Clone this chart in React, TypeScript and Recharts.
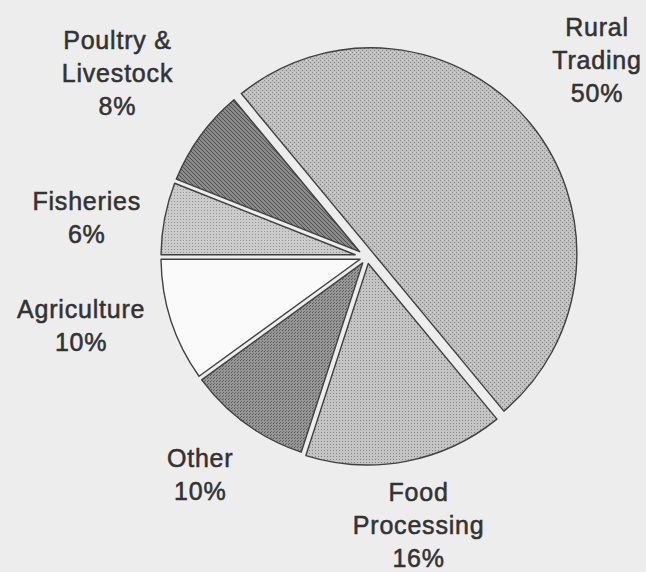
import React from 'react';
import { PieChart, Pie, Cell } from 'recharts';

// ---- data ----
const categories = ['Agriculture', 'Other', 'Food Processing', 'Rural Trading', 'Poultry & Livestock', 'Fisheries'];
const shares = [10, 10, 16, 50, 8, 6];
const labelLines = [['Agriculture'], ['Other'], ['Food', 'Processing'], ['Rural', 'Trading'], ['Poultry &', 'Livestock'], ['Fisheries']];

const data = categories.map((name, i) => ({ name, value: shares[i], lines: labelLines[i] }));

// ---- styling ----
const FILLS: Record<string, string> = {
  'Agriculture': '#fafafa',
  'Other': 'url(#patOther)',
  'Food Processing': 'url(#patFood)',
  'Rural Trading': 'url(#patRural)',
  'Poultry & Livestock': 'url(#patPoultry)',
  'Fisheries': 'url(#patFish)',
};
const EXPLODE: Record<string, number> = { 'Rural Trading': 5, 'Food Processing': 2 };
const LABEL_POS: Record<string, { r: number; shift: number }> = {
  'Rural Trading': { r: 303, shift: 1 },
  'Poultry & Livestock': { r: 310, shift: -0.4 },
  'Fisheries': { r: 283, shift: 2.8 },
  'Agriculture': { r: 294, shift: -4.5 },
  'Other': { r: 274, shift: -1.5 },
  'Food Processing': { r: 273, shift: 0.1 },
};
const GAP = 4.5;
const RAD = Math.PI / 180;

const renderSlice = (props: any) => {
  const { cx, cy, outerRadius, startAngle, endAngle, fill } = props;
  const name = props.payload?.name ?? props.name;
  const mid = (startAngle + endAngle) / 2;
  const ex = EXPLODE[name] ?? 0;
  const h = GAP / 2;
  const R = outerRadius;
  const ox = cx + ex * Math.cos(mid * RAD);
  const oy = cy - ex * Math.sin(mid * RAD);
  const theta = Math.abs(endAngle - startAngle) * RAD;
  const apexD = h / Math.sin(theta / 2);
  const ax = ox + apexD * Math.cos(mid * RAD);
  const ay = oy - apexD * Math.sin(mid * RAD);
  const delta = Math.asin(h / R) / RAD;
  const a1 = Math.min(startAngle, endAngle) + delta;
  const a2 = Math.max(startAngle, endAngle) - delta;
  const p1x = ox + R * Math.cos(a1 * RAD);
  const p1y = oy - R * Math.sin(a1 * RAD);
  const p2x = ox + R * Math.cos(a2 * RAD);
  const p2y = oy - R * Math.sin(a2 * RAD);
  const large = a2 - a1 > 180 ? 1 : 0;
  const d = `M${ax},${ay} L${p1x},${p1y} A${R},${R} 0 ${large} 0 ${p2x},${p2y} Z`;
  return <path d={d} fill={fill} stroke="#404040" strokeWidth={1.4} strokeLinejoin="round" />;
};

const renderLabel = (props: any) => {
  const { cx, cy, midAngle, payload, value } = props;
  const name = payload?.name ?? props.name;
  const lines: string[] = [...(payload?.lines ?? [name]), `${value}%`];
  const pos = LABEL_POS[name] ?? { r: 290, shift: 0 };
  const ang = (midAngle + pos.shift) * RAD;
  const x = cx + pos.r * Math.cos(ang);
  const y = cy - pos.r * Math.sin(ang);
  const L = 33;
  const n = lines.length;
  return (
    <g>
      {lines.map((t, i) => (
        <text
          key={i}
          x={x}
          y={y - ((n - 1) / 2) * L + i * L + 9}
          textAnchor="middle"
          fontFamily="'Liberation Sans', Arial, sans-serif"
          fontSize={25}
          letterSpacing={0.8}
          fill="#333333"
          stroke="#333333"
          strokeWidth={0.55}
        >
          {t}
        </text>
      ))}
    </g>
  );
};

export default function App() {
  return (
    <div style={{ position: 'absolute', left: 0, top: 0, width: 646, height: 572, background: '#ededed' }}>
      <svg width={0} height={0} style={{ position: 'absolute' }}>
        <defs>
          <pattern id="patRural" width={4} height={4} patternUnits="userSpaceOnUse">
            <rect width={4} height={4} fill="#c0c0c0" />
            <rect x={0} y={0} width={1} height={1} fill="#858585" />
            <rect x={2} y={2} width={1} height={1} fill="#858585" />
            <rect x={2} y={0} width={1} height={1} fill="#d8d8d8" />
          </pattern>
          <pattern id="patFood" width={3} height={3} patternUnits="userSpaceOnUse">
            <rect width={3} height={3} fill="#c4c4c4" />
            <rect x={0} y={0} width={1} height={1} fill="#858585" />
          </pattern>
          <pattern id="patOther" width={3} height={3} patternUnits="userSpaceOnUse">
            <rect width={3} height={3} fill="#969696" />
            <rect x={0} y={0} width={1} height={1} fill="#585858" />
            <rect x={1} y={2} width={1} height={1} fill="#686868" />
          </pattern>
          <pattern id="patPoultry" width={4} height={4} patternUnits="userSpaceOnUse">
            <rect width={4} height={4} fill="#8a8a8a" />
            <rect x={0} y={0} width={1} height={1} fill="#505050" />
            <rect x={1} y={1} width={1} height={1} fill="#505050" />
            <rect x={2} y={2} width={1} height={1} fill="#505050" />
            <rect x={3} y={3} width={1} height={1} fill="#505050" />
          </pattern>
          <pattern id="patFish" width={3} height={3} patternUnits="userSpaceOnUse">
            <rect width={3} height={3} fill="#cbcbcb" />
            <rect x={0} y={0} width={1} height={1} fill="#959595" />
          </pattern>
        </defs>
      </svg>
      <PieChart width={646} height={572} margin={{ top: 0, right: 0, bottom: 0, left: 0 }}>
        <Pie
          data={data}
          dataKey="value"
          nameKey="name"
          cx={367}
          cy={257}
          outerRadius={206}
          startAngle={180}
          endAngle={540}
          isAnimationActive={false}
          stroke="#404040"
          shape={renderSlice}
          activeShape={renderSlice}
          inactiveShape={renderSlice}
          label={renderLabel}
          labelLine={false}
        >
          {data.map((d) => (
            <Cell key={d.name} fill={FILLS[d.name]} />
          ))}
        </Pie>
      </PieChart>
    </div>
  );
}
